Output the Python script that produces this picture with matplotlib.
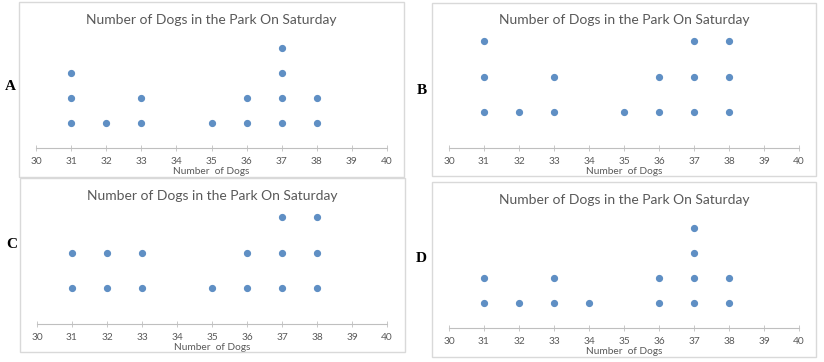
import matplotlib
matplotlib.use("Agg")
import matplotlib.pyplot as plt
from matplotlib.patches import Rectangle

# dog counts per panel: values on the x axis and how many dots stack above each
values_A = [31, 32, 33, 35, 36, 37, 38]
counts_A = [3, 1, 2, 1, 2, 4, 2]
values_B = [31, 32, 33, 35, 36, 37, 38]
counts_B = [3, 1, 2, 1, 2, 3, 3]
values_C = [31, 32, 33, 35, 36, 37, 38]
counts_C = [2, 2, 2, 1, 2, 3, 3]
values_D = [31, 32, 33, 34, 36, 37, 38]
counts_D = [2, 1, 2, 1, 2, 4, 2]

ticks = list(range(30, 41))
title = "Number of Dogs in the Park On Saturday"
xlabel = "Number  of Dogs"

W, H = 824, 362
fig = plt.figure(figsize=(W / 100, H / 100), dpi=100)
fig.patch.set_facecolor("white")

def fx(px):
    return px / W

def fy(py):
    return 1 - py / H

dot_col = "#5f8fc4"
grey = "#595959"
font = ["Lato", "DejaVu Sans"]

def panel(letter, lpos, box, ax_x, ax_y, ax_top, ymax, title_y, vals, cnts):
    # chart border
    x0, y0, x1, y1 = box
    fig.patches.append(Rectangle((fx(x0), fy(y1)), fx(x1 - x0), (y1 - y0) / H,
                                 transform=fig.transFigure, fill=False,
                                 edgecolor="#d9d9d9", linewidth=1))
    ax = fig.add_axes([fx(ax_x[0]), fy(ax_y), fx(ax_x[1] - ax_x[0]), (ax_y - ax_top) / H])
    ax.patch.set_alpha(0)
    xs, ys = [], []
    for v, c in zip(vals, cnts):
        for k in range(1, c + 1):
            xs.append(v)
            ys.append(k)
    ax.plot(xs, ys, "o", color=dot_col, markersize=4.2, clip_on=False)
    ax.set_xlim(30, 40)
    ax.set_ylim(0, ymax)
    ax.set_xticks(ticks)
    ax.set_xticklabels([str(t) for t in ticks], fontsize=7.3, color=grey, family=font)
    ax.set_yticks([])
    for s in ["top", "right", "left"]:
        ax.spines[s].set_visible(False)
    ax.spines["bottom"].set_color("#bfbfbf")
    ax.spines["bottom"].set_linewidth(0.8)
    ax.tick_params(axis="x", direction="inout", length=4, width=0.6, color="#bfbfbf", pad=4.5)
    ax.set_xlabel(xlabel, fontsize=7.3, color=grey, family=font, labelpad=1)
    fig.text(fx((ax_x[0] + ax_x[1]) / 2), fy(title_y), title, ha="center", va="center",
             fontsize=10, color=grey, family=font)
    fig.text(fx(lpos[0]), fy(lpos[1]), letter, ha="center", va="center",
             fontsize=11, fontweight="bold", family="Liberation Serif")

panel("A", (10, 87), (19, 2, 404, 177), (36, 387), 148, 23, 5, 20, values_A, counts_A)
panel("B", (422, 90), (432, 3, 816, 176), (449, 799), 148, 5, 4, 20, values_B, counts_B)
panel("C", (12, 245), (20, 178, 405, 352), (37, 387), 324, 181, 4, 196, values_C, counts_C)
panel("D", (421, 258), (432, 182, 816, 357), (449, 799), 328, 203, 5, 200, values_D, counts_D)

fig.savefig("out.png", dpi=100)
